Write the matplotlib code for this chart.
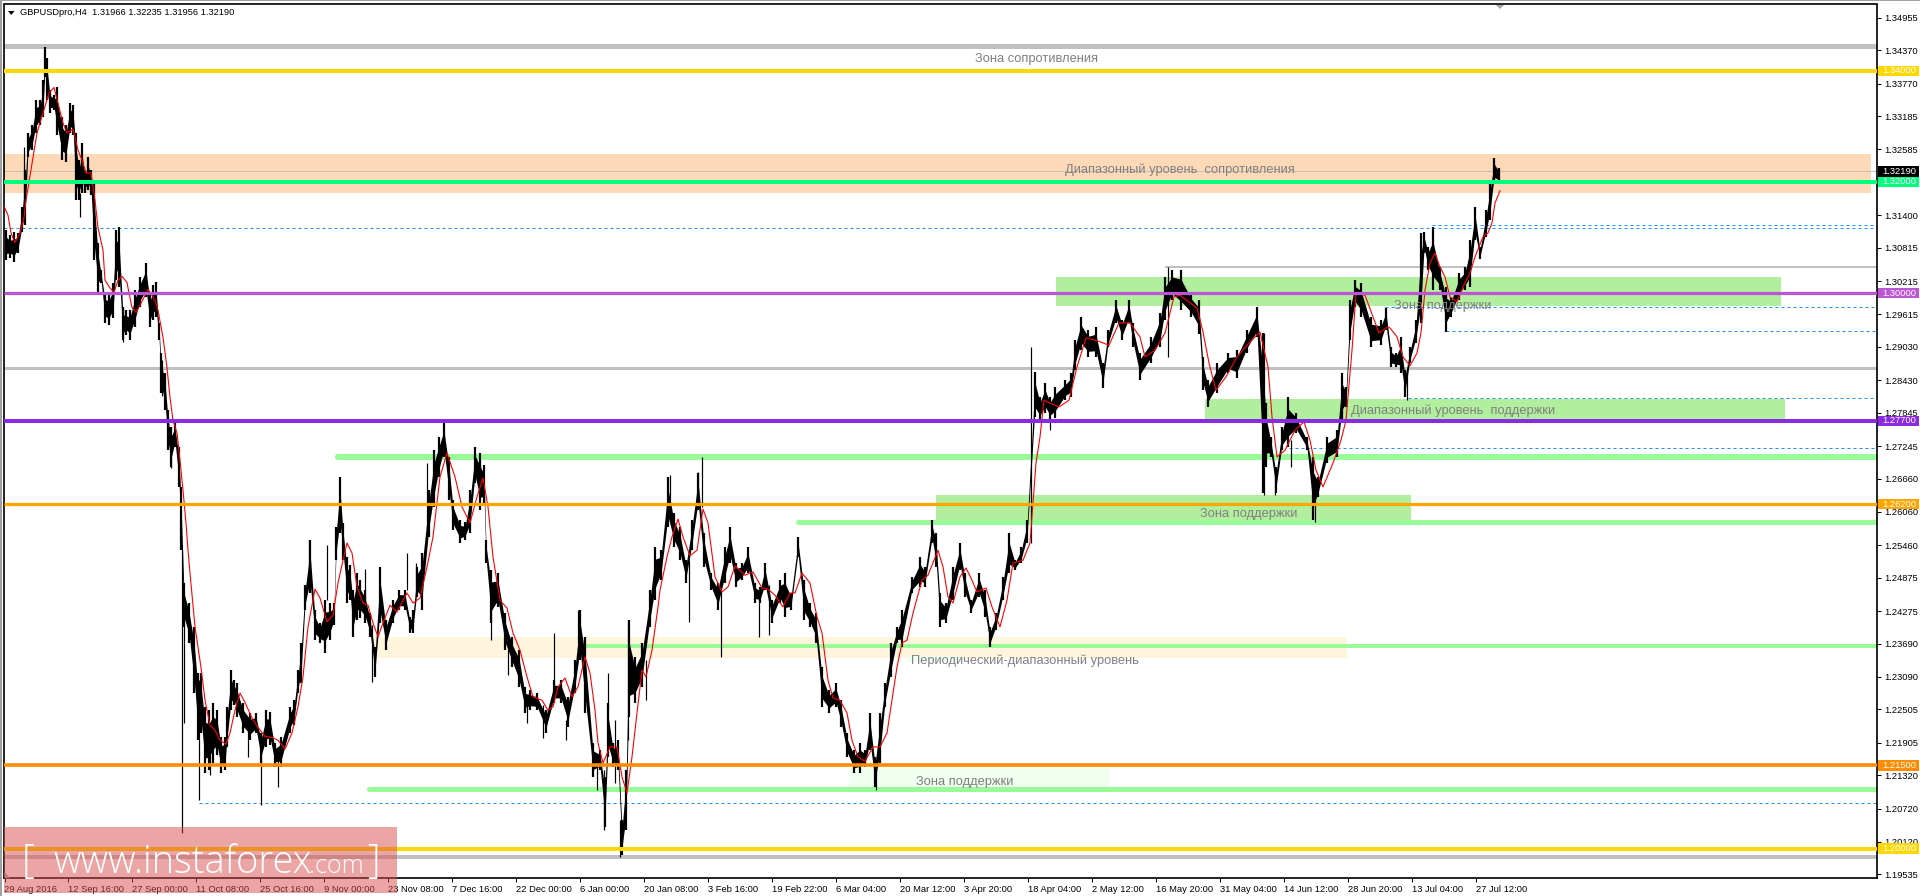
import matplotlib
matplotlib.use("Agg")
import matplotlib.pyplot as plt
from matplotlib.patches import Rectangle, Polygon
import numpy as np

W, H = 1920, 896
PX = 72 / 100

# ---- price body (bar position, high, low, in 1e-4 price units)
bars = [6,10,14,18,22,25,28,32,36,40,43,45,47,50,54,57,62,66,70,73,76,79,82,85,88,91,94,98,101,105,109,113,116,119,123,126,130,135,140,146,150,153,156,159,161,165,168,171,175,179,181,
184,189,194,198,201,205,209,213,217,221,225,227,231,234,237,243,250,256,261,266,270,275,281,290,294,298,301,305,310,315,320,325,330,334,336,340,343,347,350,353,357,360,365,370,375,380,386,393,399,405,410,413,417,422,429,434,439,444,449,453,460,465,470,475,480,484,486,491,498,505,512,519,525,530,537,546,554,561,568,575,580,585,593,600,605,608,613,618,622,626,629,635,642,650,655,661,668,674,680,686,692,698,704,711,718,725,730,736,742,748,755,760,765,772,780,785,791,798,804,810,816,822,829,836,841,847,854,860,865,870,875,880,885,891,897,902,912,920,925,932,936,940,946,953,960,965,971,979,985,990,996,1003,1009,1015,1021,1027,
1035,1040,1045,1050,1055,1065,1071,1075,1081,1088,1096,1103,1108,1116,1122,1129,1133,1140,1151,1160,1165,1172,1181,1191,1199,1203,1208,1217,1228,1237,1247,1257,1263,1266,1271,1276,1282,1288,1296,1307,1313,1318,1327,1337,1342,1346,1350,1355,1361,1371,1381,1386,1391,1396,1401,1405,1410,1416,1421,1424,1428,1433,1440,1446,1451,1459,1465,1470,1475,1480,1486,1490,1494,1499]
high = [13113,13104,13109,13108,13154,13221,13288,13302,13347,13347,13383,13442,13423,13365,13356,13370,13316,13302,13342,13338,13288,13239,13270,13221,13244,13221,13203,13090,13041,13000,13000,13018,13113,13118,12974,12969,12969,13005,13028,13054,13000,13014,13019,12946,12892,12856,12789,12758,12766,12722,12650,
12478,12442,12399,12316,12316,12254,12249,12262,12249,12200,12200,12254,12321,12303,12298,12262,12244,12244,12208,12249,12246,12190,12200,12254,12267,12321,12370,12474,12555,12429,12406,12447,12442,12442,12578,12668,12586,12524,12510,12465,12496,12483,12465,12424,12362,12506,12411,12447,12465,12465,12416,12429,12506,12532,12645,12717,12740,12766,12704,12627,12591,12587,12645,12722,12712,12690,12555,12501,12496,12424,12380,12357,12290,12285,12280,12249,12303,12303,12272,12339,12429,12380,12190,12177,12128,12262,12190,12195,12051,12141,12411,12344,12370,12465,12542,12537,12668,12604,12578,12519,12591,12676,12568,12496,12478,12542,12578,12514,12514,12542,12478,12470,12514,12447,12483,12496,12460,12560,12483,12442,12424,12327,12285,12298,12267,12208,12177,12190,12177,12244,12164,12244,12298,12370,12398,12429,12488,12524,12506,12591,12568,12460,12442,12506,12550,12496,12447,12496,12465,12398,12424,12488,12568,12519,12542,12591,
12857,12812,12838,12812,12830,12843,12856,12915,12956,12933,12938,12874,12933,12987,12951,12987,12946,12892,12920,12964,13028,13041,13041,13000,12987,12884,12843,12874,12892,12897,12933,12974,12928,12802,12740,12686,12758,12812,12784,12740,12704,12668,12740,12753,12856,12830,12987,13023,13018,12956,12951,12973,12902,12892,12920,12861,12902,12951,13108,13110,13082,13118,13046,13010,12992,13036,13046,13095,13154,13082,13149,13198,13243,13225]
low = [13059,13063,13055,13072,13109,13122,13244,13257,13288,13302,13316,13388,13347,13324,13329,13284,13239,13235,13288,13284,13167,13167,13180,13180,13185,13176,13059,13000,13018,12946,12942,12955,13023,13010,12915,12924,12915,12938,12974,12992,12938,12951,12956,12915,12820,12789,12717,12686,12722,12650,12537,
12399,12370,12280,12195,12208,12136,12141,12154,12168,12136,12141,12182,12249,12258,12236,12208,12195,12208,12154,12182,12186,12146,12146,12208,12222,12280,12298,12429,12460,12375,12370,12352,12375,12402,12519,12568,12519,12442,12447,12380,12411,12415,12406,12380,12308,12406,12357,12406,12429,12429,12388,12388,12452,12429,12560,12614,12668,12704,12627,12573,12550,12555,12568,12658,12609,12618,12514,12406,12434,12357,12326,12290,12244,12249,12249,12208,12262,12262,12218,12280,12339,12244,12128,12141,12038,12164,12146,12141,11988,12033,12236,12262,12290,12399,12447,12483,12578,12542,12519,12478,12537,12609,12506,12465,12429,12478,12514,12470,12483,12496,12442,12442,12465,12406,12442,12416,12429,12524,12411,12398,12370,12254,12244,12254,12218,12164,12136,12136,12146,12177,12110,12154,12254,12308,12370,12362,12460,12470,12470,12550,12506,12398,12406,12447,12501,12452,12424,12452,12416,12362,12393,12447,12496,12501,12514,12550,
12776,12771,12784,12771,12775,12807,12812,12861,12897,12884,12884,12829,12902,12946,12915,12946,12902,12843,12874,12902,12951,12987,12969,12956,12927,12825,12794,12820,12856,12847,12892,12920,12640,12686,12704,12640,12717,12722,12748,12717,12591,12632,12694,12704,12771,12794,12915,12974,12956,12902,12906,12933,12866,12866,12856,12812,12874,12910,12946,13072,13041,13005,13005,12929,12956,12987,13005,13010,13095,13062,13100,13131,13198,13198]

# ---- long single wicks (bar position, high, low)
wick_x = [24,80,123,162,171,181.7,184,198.5,210,248,260.5,277.7,309,327,365,372,407,416,427,491,508,527,543,554,566,578,597,604,608,615,620,628,646,670,689,698,702,721,759,769,875.7,1030.6,1050,1168,1264,1275,1291,1315,1407]
wick_hi = [13263,13180,12974,12879,12735,12537,12447,12303,12218,12213,12208,12159,12555,12546,12503,12402,12532,12514,12694,12447,12375,12267,12258,12388,12231,12429,12159,12141,12316,12231,12051,12411,12339,12672,12519,12678,12704,12465,12447,12474,12159,12903,12771,13047,12928,12681,12735,12663,12861]
wick_lo = [13131,13137,12911,12814,12685,12028,12226,12087,12132,12165,12078,12110,12492,12447,12411,12300,12465,12465,12573,12375,12312,12226,12199,12285,12195,12370,12105,12033,12249,12118,11985,12195,12267,12609,12408,12622,12614,12345,12380,12384,12105,12550,12753,12885,12636,12636,12686,12588,12807]

# ---- moving average
ma_x = [4,8,11,15,20,24,26,33,37,43,49,54,59,63,67,73,78,82,86,91,95,98,103,105,110,114,118,122,127,129,132,136,140,144,148,155,158,163,167,170,173,177,180,183,186,188,190,195,201,205,210,215,220,226,230,235,240,245,252,258,265,272,278,285,292,298,303,308,315,320,327,333,338,343,347,352,357,363,368,373,378,383,390,397,407,413,420,427,433,440,447,455,462,470,477,483,488,493,500,507,513,520,527,533,542,548,553,558,565,572,578,585,590,595,598,603,610,617,622,627,632,637,642,646,652,658,660,667,672,678,683,690,697,703,708,715,722,728,735,745,753,762,768,775,783,790,795,802,810,817,822,828,833,840,847,852,858,865,873,880,887,892,897,902,907,913,922,928,938,943,948,953,960,966,972,977,986,992,1000,1007,1013,1023,1030,1033,1036,1040,1044,1050,1059,1069,1077,1086,1096,1109,1119,1130,1140,1145,1155,1165,1174,1180,1197,1203,1209,1216,1226,1237,1249,1260,1268,1272,1277,1285,1295,1304,1310,1316,1323,1333,1341,1346,1352,1356,1365,1373,1379,1388,1390,1397,1403,1410,1417,1421,1425,1430,1435,1440,1445,1450,1457,1463,1470,1475,1483,1488,1492,1495,1500]
ma_y = [13156,13140,13108,13091,13108,13136,13167,13244,13288,13324,13360,13370,13334,13306,13288,13295,13257,13239,13216,13216,13167,13118,13077,13023,13009,13001,13023,13030,13019,13000,12974,12965,12978,12992,13007,12987,12969,12920,12866,12812,12771,12748,12699,12645,12586,12537,12496,12399,12326,12267,12222,12213,12195,12188,12208,12249,12280,12263,12235,12218,12202,12200,12195,12179,12208,12255,12309,12399,12467,12451,12408,12420,12478,12519,12550,12532,12471,12442,12438,12406,12381,12406,12438,12426,12460,12442,12451,12507,12561,12669,12712,12669,12615,12586,12633,12667,12615,12525,12447,12433,12388,12357,12309,12273,12267,12249,12255,12291,12307,12273,12291,12345,12316,12249,12190,12154,12183,12183,12129,12100,12165,12244,12321,12309,12357,12435,12465,12525,12561,12593,12561,12527,12537,12611,12586,12489,12462,12471,12509,12492,12498,12469,12467,12456,12435,12460,12460,12496,12478,12417,12388,12303,12271,12267,12244,12195,12165,12157,12183,12183,12208,12267,12327,12370,12375,12424,12483,12492,12537,12507,12453,12442,12489,12505,12483,12462,12469,12435,12399,12447,12514,12519,12550,12622,12694,12741,12807,12802,12795,12807,12867,12919,12915,12906,12946,12946,12921,12885,12897,12928,12993,12996,12973,12930,12874,12825,12849,12885,12910,12930,12867,12777,12705,12717,12753,12768,12735,12681,12651,12694,12735,12771,12897,13000,12996,12957,12928,12939,12937,12921,12885,12869,12892,12928,13005,13054,13072,13047,13029,12993,12984,13011,13036,13065,13101,13108,13126,13162,13184]

# ---- price scale and time scale labels
y_ticks = [1.34955,1.34370,1.33770,1.33185,1.32585,1.31400,1.30815,1.30215,1.29615,1.29030,1.28430,1.27845,1.27245,1.26660,1.26060,1.25460,1.24875,1.24275,1.23690,1.23090,1.22505,1.21905,1.21320,1.20720,1.20120,1.19535]
x_labels = ["29 Aug 2016","12 Sep 16:00","27 Sep 00:00","11 Oct 08:00","25 Oct 16:00","9 Nov 00:00","23 Nov 08:00","7 Dec 16:00","22 Dec 00:00","6 Jan 00:00","20 Jan 08:00","3 Feb 16:00","19 Feb 22:00","6 Mar 04:00","20 Mar 12:00","3 Apr 20:00","18 Apr 04:00","2 May 12:00","16 May 20:00","31 May 04:00","14 Jun 12:00","28 Jun 20:00","13 Jul 04:00","27 Jul 12:00"]

# ---- level objects
levels_bold = [(1.34,"#FFD700",4.0),(1.32,"#00FF7F",4.0),(1.30,"#BA55D3",3.2),(1.277,"#8A2BE2",4.0),(1.262,"#FFA500",3.2),(1.215,"#FF8C00",3.6),(1.20,"#FFD700",4.0)]
tags = [(1.34,"1.34000","#FFD700"),(1.3219,"1.32190","#000000"),(1.32,"1.32000","#00FF7F"),(1.30,"1.30000","#BA55D3"),(1.277,"1.27700","#8A2BE2"),(1.262,"1.26200","#FFA500"),(1.215,"1.21500","#FF8C00"),(1.20,"1.20000","#FFD700")]
grey_lines = [(1.34441,4,5.0),(1.28655,4,3.0),(1.30468,1165,2.0),(1.19848,4,4.0)]
pale_lines = [(1.27053,338,6.0),(1.25878,798,5.0),(1.23651,580,4.0),(1.21072,369,5.0)]
dash_lines = [(1.31233,1432),(1.31179,4),(1.29743,1385),(1.29311,1446),(1.28105,1408),(1.27205,1289),(1.20825,199)]
zones = [(1.31800,1.32502,4,1871,"#FDD9B7"),(1.29771,1.30283,1056,1781,"#B1EF9E"),(1.27692,1.28092,1205,1785,"#B1EF9E"),(1.25824,1.26364,936,1411,"#B1EF9E"),(1.23435,1.23808,372,1347,"#FFF5DC"),(1.21108,1.21450,849,1109,"#F0FFF0")]
notes = [("Зона сопротивления",975,1.34216),("Диапазонный уровень  сопротивления",1065,1.32214),("Зона поддержки",1394,1.29771),("Диапазонный уровень  поддержки",1351,1.27876),("Зона поддержки",1200,1.26027),("Периодический-диапазонный уровень",911,1.23381),("Зона поддержки",916,1.21203)]

fig = plt.figure(figsize=(W/100, H/100), dpi=100, facecolor="white")
ax = fig.add_axes([4/W, 1-878/H, (1876.5-4)/W, (878-4.5)/H])
ax.set_xlim(4, 1876.5)
ax.set_ylim(1.19470, 1.35193)
ax.set_facecolor("white")
for s in ax.spines.values():
    s.set_color("black"); s.set_linewidth(1.2*PX*1.4)

for lo_, hi_, x0, x1, c in zones:
    ax.add_patch(Rectangle((x0, lo_), x1-x0, hi_-lo_, fc=c, ec="none", zorder=1))
ax.add_patch(Rectangle((907, 1.2336), 55, 0.0011, fc="#F0FFF0", ec="none", zorder=1.1))

for p, x0, w in grey_lines:
    ax.hlines(p, x0, 1876.5, color="#C0C0C0", lw=w*PX, zorder=2)
ax.hlines(1.3219, 4, 1876.5, color="#C0C0C0", lw=1*PX, zorder=2)
for p, x0, w in pale_lines:
    ax.plot([x0, 1876.5], [p, p], color="#98FB98", lw=w*PX, solid_capstyle="round", zorder=2)
for p, x0 in dash_lines:
    ax.plot([x0, 1876.5], [p, p], color="#1E90FF", lw=1*PX, dashes=(3, 3), zorder=2)

b = np.array(bars, float)
hi_a, lo_a = np.array(high)/1e4, np.array(low)/1e4
mid = (hi_a + lo_a) / 2
half = (hi_a - lo_a) / 2
ax.fill_between(b, mid - 0.55*half, mid + 0.55*half, color="black", lw=0, zorder=3)
ax.vlines(b, lo_a, hi_a, color="black", lw=2.2*PX, zorder=3)
ax.vlines(wick_x, np.array(wick_lo)/1e4, np.array(wick_hi)/1e4, color="black", lw=1.2*PX, zorder=3)
ax.plot(ma_x, np.array(ma_y)/1e4, color="#FF0000", lw=1.1*PX, zorder=4)

for p, c, w in levels_bold:
    ax.hlines(p, 4, 1876.5, color=c, lw=w*PX, zorder=5)

font = ["Liberation Sans", "DejaVu Sans"]
for t, x, p in notes:
    ax.text(x, p, t, color="#808080", fontsize=12.9*PX, family=font, va="center", ha="left", zorder=6)

# axes ticks
ax.set_yticks(y_ticks)
ax.set_yticklabels([f"{v:.5f}" for v in y_ticks], fontsize=9.4*PX, family=font, color="black")
ax.yaxis.tick_right()
ax.tick_params(axis="y", length=4*PX, width=1*PX, pad=3, color="black")
xt = [4.5 + 63.96*i for i in range(len(x_labels))]
ax.set_xticks(xt)
ax.set_xticklabels(x_labels, fontsize=9.4*PX, family=font, ha="left", color="black")
ax.tick_params(axis="x", length=4*PX, width=1*PX, pad=2.5, color="black")

# price tags
trans = ax.get_yaxis_transform()
axw = 1872.5
for p, t, c in tags:
    ax.add_patch(Rectangle((1+1.5/axw, p-0.00095), 41/axw, 0.0019, transform=trans, fc=c, ec="none", clip_on=False, zorder=7))
    ax.text(1+5.5/axw, p, t, transform=trans, color="white", fontsize=9.4*PX, family=font, va="center", ha="left", clip_on=False, zorder=8)

# header
fig.text(20/W, 1-12.7/H, "GBPUSDpro,H4  1.31966 1.32235 1.31956 1.32190", fontsize=9.3*PX, family=font, va="center", ha="left", color="black", zorder=9)
fig.add_artist(Polygon([[8/W,1-11/H],[14.5/W,1-11/H],[11.2/W,1-15/H]], closed=True, transform=fig.transFigure, fc="black", ec="none"))
fig.add_artist(Polygon([[1496/W,1-5/H],[1504/W,1-5/H],[1500/W,1-9/H]], closed=True, transform=fig.transFigure, fc="#A8A8A8", ec="none"))
fig.add_artist(Polygon([[4.5/W,1-878/H],[4.5/W,1-872/H],[10/W,1-878/H]], closed=True, transform=fig.transFigure, fc="#A8A8A8", ec="none"))
fig.add_artist(Rectangle((0, 1-1.5/H), 1, 1.5/H, transform=fig.transFigure, fc="#A0A0A0", ec="none"))
fig.add_artist(Rectangle((0, 0), 2/W, 1, transform=fig.transFigure, fc="#A0A0A0", ec="none"))

# watermark
fig.add_artist(Rectangle((4/W, 1-893/H), 393/W, 66/H, transform=fig.transFigure, fc=(0.86, 0.30, 0.30, 0.50), ec="none", zorder=20))
wm = ["Open Sans", "DejaVu Sans"]
fig.text(22/W, 1-873/H, "[", color="white", fontsize=40*PX, family=wm, va="baseline", weight="light", zorder=21)
fig.text(53/W, 1-873/H, "www.instaforex", color="white", fontsize=38*PX, family=wm, va="baseline", weight="light", zorder=21)
fig.text(309/W, 1-873/H, ".com", color="white", fontsize=25*PX, family=wm, va="baseline", weight="light", zorder=21)
fig.text(367/W, 1-873/H, "]", color="white", fontsize=40*PX, family=wm, va="baseline", weight="light", zorder=21)

fig.savefig("out.png", dpi=100, facecolor="white")
